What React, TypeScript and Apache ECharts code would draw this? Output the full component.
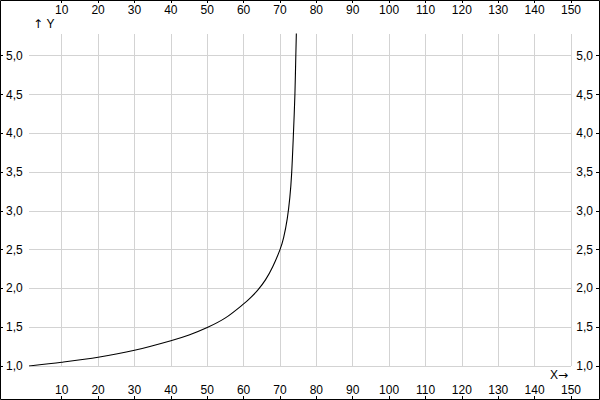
import React, { useEffect, useRef } from "react";
import * as echarts from "echarts";

const xTicks = [10, 20, 30, 40, 50, 60, 70, 80, 90, 100, 110, 120, 130, 140, 150];
const yTicks = [1.0, 1.5, 2.0, 2.5, 3.0, 3.5, 4.0, 4.5, 5.0];
const xValues = [1, 10, 20, 30, 40, 45, 50, 55, 60, 62, 64, 66, 68, 70, 71, 72, 72.7, 73.2, 73.7, 74.1, 74.35, 74.5];
const yValues = [1.0, 1.048, 1.112, 1.202, 1.326, 1.4, 1.495, 1.62, 1.8, 1.885, 1.985, 2.11, 2.28, 2.5, 2.655, 2.9, 3.17, 3.48, 4.0, 4.5, 5.0, 5.3];
const xMin = 1;
const xMax = 150;
const yMin = 1;
const yMax = 5.28;

const FONT = "'Liberation Sans', Arial, sans-serif";

export default function App() {
  const ref = useRef<HTMLDivElement>(null);
  useEffect(() => {
    if (!ref.current) return;
    const chart = echarts.init(ref.current, null, { renderer: "svg" });
    const fmtY = (v: number) => v.toFixed(1).replace(".", ",");
    const labelBase = { color: "#000", fontSize: 12, fontFamily: FONT, inside: true };
    const tickBase = { show: true, inside: true, length: 3, lineStyle: { color: "#000", width: 1 } };
    const split = { show: true, lineStyle: { color: "#d3d3d3", width: 1 } };
    const arrowRich = {
      a: { fontFamily: "'DejaVu Sans', sans-serif", fontSize: 12, fill: "#000", color: "#000" },
      t: { fontFamily: FONT, fontSize: 12, fill: "#000", color: "#000" },
    };
    chart.setOption({
      animation: false,
      backgroundColor: "#fff",
      grid: { left: 29, right: 29, top: 34, bottom: 34, containLabel: false },
      xAxis: [
        {
          type: "value", position: "bottom", min: xMin, max: xMax, offset: 33,
          axisLine: { show: false },
          axisTick: { ...tickBase, customValues: xTicks },
          axisLabel: { ...labelBase, margin: 3, customValues: xTicks },
          splitLine: split,
        },
        {
          type: "value", position: "top", min: xMin, max: xMax, offset: 34,
          axisLine: { show: false },
          axisTick: { ...tickBase, customValues: xTicks },
          axisLabel: { ...labelBase, margin: 4, customValues: xTicks },
          splitLine: { show: false },
        },
      ],
      yAxis: [
        {
          type: "value", position: "left", min: yMin, max: yMax, offset: 29,
          axisLine: { show: false },
          axisTick: { ...tickBase, customValues: yTicks },
          axisLabel: { ...labelBase, margin: 6, customValues: yTicks, formatter: fmtY },
          splitLine: split,
        },
        {
          type: "value", position: "right", min: yMin, max: yMax, offset: 28,
          axisLine: { show: false },
          axisTick: { ...tickBase, customValues: yTicks },
          axisLabel: { ...labelBase, margin: 6, customValues: yTicks, formatter: fmtY },
          splitLine: { show: false },
        },
      ],
      series: [
        {
          type: "line",
          xAxisIndex: 0,
          yAxisIndex: 0,
          data: xValues.map((x, i) => [x, yValues[i]]),
          smooth: 0.3,
          showSymbol: false,
          symbol: "none",
          clip: true,
          lineStyle: { color: "#000", width: 1.1 },
        },
      ],
      graphic: [
        {
          type: "rect",
          shape: { x: 0.5, y: 0.5, width: 599, height: 399 },
          style: { fill: "none", stroke: "#000", lineWidth: 1 },
          z: 100,
        },
        {
          type: "text",
          x: 33,
          y: 24,
          style: { text: "{a|↑} {t|Y}", rich: arrowRich, fill: "#000", font: `12px ${FONT}`, textAlign: "left", textVerticalAlign: "middle" },
        },
        {
          type: "text",
          x: 568,
          y: 375,
          style: { text: "{t|X}{a|→}", rich: arrowRich, fill: "#000", font: `12px ${FONT}`, textAlign: "right", textVerticalAlign: "middle" },
        },
      ],
    });
    return () => chart.dispose();
  }, []);
  return <div ref={ref} style={{ position: "fixed", left: 0, top: 0, width: 600, height: 400 }} />;
}
